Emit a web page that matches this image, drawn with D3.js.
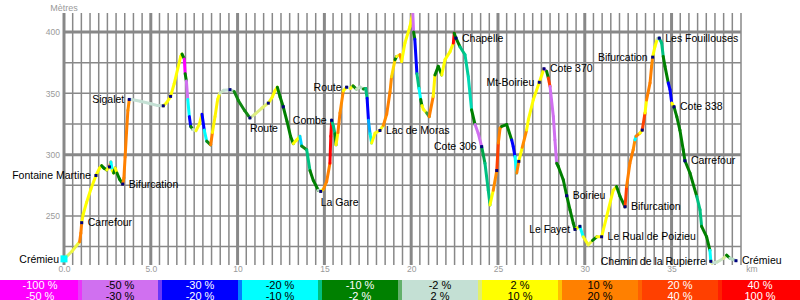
<!DOCTYPE html>
<html>
<head>
<meta charset="utf-8">
<script src="https://cdn.jsdelivr.net/npm/d3@7"></script>
<style>
  body { margin: 0; background: #fff; }
  svg { display: block; font-family: "Liberation Sans", Arial, sans-serif; }
</style>
</head>
<body>
<svg id="profil" width="800" height="300"></svg>
<script>
// profil : distance (km) / altitude (m)
var dist = [0.00,0.45,0.90,0.97,1.02,1.10,1.30,1.55,1.84,2.05,2.17,2.30,2.46,2.62,2.70,2.78,2.86,2.95,3.05,3.20,
  3.38,3.45,3.52,3.60,3.68,3.76,3.90,4.40,5.00,5.40,5.72,5.92,6.14,6.35,6.55,6.72,6.80,6.93,6.98,7.05,
  7.13,7.22,7.30,7.42,7.60,7.80,7.95,8.08,8.22,8.45,8.55,8.70,8.85,8.97,9.20,9.56,9.80,10.05,10.40,10.71,
  11.00,11.40,11.77,12.00,12.15,12.29,12.45,12.63,12.85,13.05,13.21,13.40,13.59,13.69,13.98,14.17,14.36,14.65,14.79,14.95,
  15.13,15.32,15.37,15.42,15.52,15.61,15.67,15.78,15.90,16.09,16.28,16.50,16.65,16.85,17.05,17.25,17.38,17.46,17.54,17.63,
  17.72,17.92,18.20,18.40,18.59,18.78,18.87,19.07,19.16,19.35,19.45,19.64,19.93,20.09,20.14,20.21,20.33,20.45,20.55,20.62,
  20.70,20.89,21.04,21.27,21.37,21.56,21.76,21.95,22.24,22.43,22.48,22.58,22.81,23.10,23.29,23.48,23.68,23.86,24.06,24.25,
  24.44,24.54,24.73,24.93,25.02,25.12,25.21,25.50,25.79,25.88,25.98,26.08,26.20,26.40,26.65,26.75,27.03,27.38,27.65,27.80,
  27.90,28.00,28.19,28.28,28.38,28.47,28.76,28.96,29.15,29.34,29.44,29.72,29.91,30.20,30.45,30.69,30.97,31.26,31.64,31.83,
  32.03,32.32,32.41,32.60,32.79,32.89,32.95,33.18,33.31,33.47,33.56,33.76,33.85,33.91,34.04,34.18,34.29,34.43,34.52,34.62,
  34.81,34.91,35.01,35.14,35.30,35.48,35.67,35.77,36.06,36.45,36.64,36.73,37.02,37.21,37.26,37.33,37.63,38.00,38.17,38.36,
  38.71];
var alt = [215,221,229,236,244.5,251,261,272,283,289,291,289,287.5,290,294,287,285,289,285,280,
  276,281,298,318,336,345,345,343.5,341.5,340,339.8,342.5,347.5,358,370,380,382,378,366,360,
  345,331,323,320.5,319.5,325,333,320,311,308,318,331,345,350,352.5,353,351.5,344,336,330,
  333,338,342,347,352,355,347,339,327,315,309,312,315,307,304,287,279,271,270,272,
  278,293,315,328,323,317,308,318,334,352,355,354,356,353.5,355,353.5,354,346,328,317,
  309.5,317.5,319.7,324,333,351,363.5,377.5,380,381.5,376,391,404.5,416,400,394,366,354,345,340,
  337,334,331,347.5,365,372,365,377.5,384,391,399,395,388,381.5,363.5,336.5,324.5,317.5,306.5,293,
  271,259,271,287,309.5,321.5,323,324.5,312,306.5,298.5,285,294.5,306,320,328.5,344.5,359,370,368,
  362.5,355.5,331,312,293,290.5,279.5,266.5,255,244,239,241.5,233,226.5,230,233,233,249.5,271,274,
  266,257.5,274,293,304,312,315,317.5,320,334,344.5,358.5,372,379.5,388,394.5,395,391,380,372,
  358.5,353,342,339,331,320,304,295,285,266,255,241.5,233,222,213,211.5,212.5,215.5,218,215.5,
  213.5];
// pente (%) du tronçon qui part de chaque point, lue d'après la couleur du tracé
var pente = [2,2.5,15,15,8,6,6,6,5,4,-4,-5,3,15,-15,5,-6,6,-5,-4,
  15,15,15,15,12,0,0,0,0,0,3,5,6,6,6,6,-5,-70,-6,-35,
  -15,-25,-5,0,3,6,-25,-15,-3,15,8,8,4,1,0,-1,-3,-3,-3,1.5,
  1.8,2,3,5,5,-6,-6,-6,-6,-5,4,5,-18,-3,-10,-7,-4,-1,5,12,
  14,60,50,-10,-10,-8,8,14,12,5,0,3,-3,1,-1,-3,-10,-25,-19,-12,
  6,3,3,12,14,12,9,-5,3,14,6,6,7,-40,-6,-25,-10,-14,-6,4,
  3,-2.5,14,8,-4,-4,7,6,5,45,-5,-5,-10,-10.5,-11,-6,-35,-35,-9,-10,
  -10,5,12,25,15,12,-5,-5,-25,-25,-15,14,6,12,5,6,6,6,-35,-6,
  30,-35,-35,-35,-4,-4,-6,-7,-7,-7,5,-14,3,2.5,-4,3,6,6,3,-6,
  -4,30,14,14,12,-15,14,5,30,6,14,14,12,6,6,0,-10,-10,-6,-6,
  -25,-25,4,-6,-6,-6,-6,-6,-7,-10,-10,-7,-7,-15,4,0,1,1.5,-5,-1,
  0];

// points de passage
var wpKm = [0, 1.02, 1.84, 2.62, 3.38, 3.76, 5.72, 6.14, 9.56, 10.71, 11.77, 12.63, 14.79, 15.42, 16.28, 18.20, 22.58,
  24.06, 24.93, 26.20, 27.38, 27.65, 28.96, 29.44, 29.72, 30.97, 32.32, 33.31, 33.91, 34.29, 35.14, 35.77, 37.26, 38.71];
var wpName = ["Crémieu","Carrefour","Fontaine Martine","","Bifurcation","Sigalet","","","","Route","","","La Gare","Combe",
  "Route","Lac de Moras","Chapelle","Cote 306","","","Mt-Boirieu","Cote 370","Boirieu","Le Fayet","","Le Rual de Poizieu",
  "Bifurcation","","Bifurcation","Les Fouillouses","Cote 338","Carrefour","Chemin de la Rupierre","Crémieu"];
var wpSide = ["l","r","l","","r","l","","","","b","","","b","l","l","r","r","l","","","l","r","r","l","","r","r","","l","r","r","r","l","r"];

var xTicks = [0, 5, 10, 15, 20, 25, 30, 35];
var xTickLabels = ["0.0", "5.0", "10", "15", "20", "25", "30", "35"];
var yTicks = [250, 300, 350, 400];

// classes de pente
var legendFrom = ["-100 %","-50 %","-30 %","-20 %","-10 %","-2 %","2 %","10 %","20 %","40 %"];
var legendTo = ["-50 %","-30 %","-20 %","-10 %","-2 %","2 %","10 %","20 %","40 %","100 %"];
var classBreaks = [-50, -30, -20, -10, -2, 2, 10, 20, 40];
var classColors = ["#ff00ff","#d070f0","#0000ff","#00ffff","#008000","#c4e0d4","#ffff00","#ff8000","#ff4000","#ff0000"];
var legendText = ["#fff","#000","#fff","#000","#fff","#000","#000","#000","#fff","#fff"];

var svg = d3.select("#profil");
var W = 800, H = 300;
var plot = {left: 64, right: 741, top: 13, bottom: 265};

var x = d3.scaleLinear().domain([0, 39]).range([plot.left, plot.right]);
var y = d3.scaleLinear().domain([210, 415.5]).range([plot.bottom, plot.top]);

// couleur selon la pente, avec un petit fondu aux limites
var bWidth = [6, 3, 3, 2.4, 1.2, 1.2, 2.4, 3, 6];
var cDom = [-100], cRange = [classColors[0]];
classBreaks.forEach(function(b, k) {
  cDom.push(b - bWidth[k]); cRange.push(classColors[k]);
  cDom.push(b + bWidth[k]); cRange.push(classColors[k + 1]);
});
cDom.push(100); cRange.push(classColors[9]);
var colorSlope = d3.scaleLinear().domain(cDom).range(cRange).clamp(true);

// grille
var grid = svg.append("g");
var vLines = d3.range(0, 39.001, 0.5);
grid.selectAll(".v").data(vLines).enter().append("line")
  .attr("x1", function(d) { return x(d); })
  .attr("x2", function(d) { return x(d); })
  .attr("y1", plot.top).attr("y2", plot.bottom)
  .attr("stroke", "#888")
  .attr("stroke-width", function(d, i) { return i % 10 === 0 ? 3 : 1.5; });
var hLines = d3.range(225, 401, 25);
grid.selectAll(".h").data(hLines).enter().append("line")
  .attr("x1", plot.left).attr("x2", plot.right)
  .attr("y1", function(d) { return y(d); })
  .attr("y2", function(d) { return y(d); })
  .attr("stroke", "#888")
  .attr("stroke-width", function(d) { return d % 100 === 0 ? 3 : 1.5; });

// axes
var yAxisG = svg.append("g")
  .attr("transform", "translate(" + plot.left + ",0)")
  .call(d3.axisLeft(y).tickValues(yTicks).tickSize(0).tickPadding(4));
var xAxisG = svg.append("g")
  .attr("transform", "translate(0," + plot.bottom + ")")
  .call(d3.axisBottom(x).tickValues(xTicks).tickSize(0).tickPadding(1)
    .tickFormat(function(d, i) { return xTickLabels[i]; }));
[yAxisG, xAxisG].forEach(function(g) {
  g.select(".domain").remove();
  g.selectAll("text").attr("fill", "#9a9a9a").style("font-size", "8.5px")
    .style("font-family", "'Liberation Sans', Arial, sans-serif");
});
svg.append("text").attr("x", 752).attr("y", 272).attr("text-anchor", "middle")
  .attr("fill", "#9a9a9a").style("font-size", "8.5px").text("km");
svg.append("text").attr("x", 64).attr("y", 11).attr("text-anchor", "middle")
  .attr("fill", "#9a9a9a").style("font-size", "9px").text("Mètres");

// profil colorié par la pente
var segs = d3.range(dist.length - 1).map(function(i) {
  return {x1: dist[i], y1: alt[i], x2: dist[i + 1], y2: alt[i + 1], s: pente[i]};
});
svg.append("clipPath").attr("id", "clip").append("rect")
  .attr("x", plot.left - 5).attr("y", plot.top)
  .attr("width", plot.right - plot.left + 10).attr("height", plot.bottom - plot.top + 5);
svg.append("g").attr("clip-path", "url(#clip)")
  .selectAll("line").data(segs).enter().append("line")
  .attr("x1", function(d) { return x(d.x1); })
  .attr("y1", function(d) { return y(d.y1); })
  .attr("x2", function(d) { return x(d.x2); })
  .attr("y2", function(d) { return y(d.y2); })
  .attr("stroke", function(d) { return colorSlope(d.s); })
  .attr("stroke-width", 3)
  .attr("stroke-linecap", "round");

// points de passage
function altAt(km) {
  var i = d3.bisectLeft(dist, km);
  if (i <= 0) return alt[0];
  if (i >= dist.length) return alt[alt.length - 1];
  var t = (km - dist[i - 1]) / (dist[i] - dist[i - 1]);
  return alt[i - 1] + t * (alt[i] - alt[i - 1]);
}
var wps = wpKm.map(function(k, i) {
  return {px: x(k), py: y(altAt(k)), name: wpName[i], side: wpSide[i], first: i === 0};
});
var wpG = svg.append("g");
wpG.selectAll("rect").data(wps).enter().append("rect")
  .attr("x", function(d) { return d.px - (d.first ? 3.5 : 1.5); })
  .attr("y", function(d) { return d.py - (d.first ? 3.5 : 1.5); })
  .attr("width", function(d) { return d.first ? 7 : 3; })
  .attr("height", function(d) { return d.first ? 7 : 3; })
  .attr("fill", function(d) { return d.first ? "#00ffff" : "#000080"; });
wpG.selectAll("text").data(wps.filter(function(d) { return d.name; })).enter().append("text")
  .attr("x", function(d) { return d.side === "r" ? d.px + 6 : d.side === "l" ? d.px - 5 : d.px; })
  .attr("y", function(d) { return d.side === "b" ? d.py + 10.5 : d.py; })
  .attr("dy", "0.35em")
  .attr("text-anchor", function(d) { return d.side === "l" ? "end" : "start"; })
  .attr("fill", "#000")
  .style("font-size", "10.5px")
  .text(function(d) { return d.name; });

// légende
var lg = svg.append("g").attr("transform", "translate(0,280)");
var boxW = W / classColors.length;
lg.selectAll(".box").data(classColors).enter().append("rect")
  .attr("x", function(d, i) { return i * boxW; })
  .attr("y", 0).attr("width", boxW).attr("height", 20)
  .attr("fill", function(d) { return d; });
lg.selectAll(".mix").data(classBreaks).enter().append("rect")
  .attr("x", function(d, i) { return (i + 1) * boxW - 2; })
  .attr("y", 0).attr("width", 4).attr("height", 20)
  .attr("fill", function(d) { return colorSlope(d); });
lg.selectAll(".t1").data(legendFrom).enter().append("text")
  .attr("x", function(d, i) { return i * boxW + boxW / 2; })
  .attr("y", 8.5)
  .attr("text-anchor", "middle")
  .attr("fill", function(d, i) { return legendText[i]; })
  .style("font-size", "11px")
  .text(function(d) { return d; });
lg.selectAll(".t2").data(legendTo).enter().append("text")
  .attr("x", function(d, i) { return i * boxW + boxW / 2; })
  .attr("y", 20)
  .attr("text-anchor", "middle")
  .attr("fill", function(d, i) { return legendText[i]; })
  .style("font-size", "11px")
  .text(function(d) { return d; });
</script>
</body>
</html>
